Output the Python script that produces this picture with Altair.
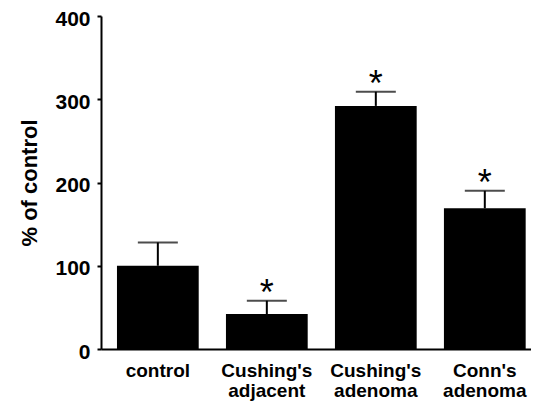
import altair as alt
import pandas as pd

categories = ["control", "Cushing's adjacent", "Cushing's adenoma", "Conn's adenoma"]
means = [100, 42, 292, 169]
upper = [128, 58, 309, 190]
marks = ["", "*", "*", "*"]

df = pd.DataFrame({"group": categories, "mean": means, "upper": upper, "sig": marks})

FONT = "Liberation Sans"

x = alt.X("group:N", sort=categories, title=None,
          scale=alt.Scale(paddingInner=0.25, paddingOuter=0.0977, align=0.75),
          axis=alt.Axis(labelAngle=0, labelExpr="split(datum.label, ' ')",
                        labelFont=FONT, labelFontWeight="bold", labelFontSize=19,
                        labelColor="black", labelLineHeight=20, labelPadding=12,
                        ticks=False, tickSize=0, domainColor="black", domainWidth=2))

y_axis = alt.Axis(values=[0, 100, 200, 300, 400], grid=False, labelFont=FONT,
                  labelFontWeight="bold", labelFontSize=21, labelColor="black",
                  labelPadding=7, labelOffset=3, tickSize=4, tickWidth=2, tickColor="black",
                  domainColor="black", domainWidth=2, title="% of control",
                  titleFont=FONT, titleFontWeight="bold", titleFontSize=22,
                  titleColor="black", titlePadding=13)

base = alt.Chart(df)

bars = base.mark_bar(color="black").encode(
    x=x,
    y=alt.Y("mean:Q", scale=alt.Scale(domain=[0, 400], nice=False), axis=y_axis),
)

err = base.mark_rule(color="black", strokeWidth=2).encode(
    x=alt.X("group:N", sort=categories), y="mean:Q", y2="upper:Q")

cap = base.mark_tick(color="black", size=40, thickness=2, orient="horizontal").encode(
    x=alt.X("group:N", sort=categories), y="upper:Q")

star = base.mark_text(font=FONT, fontSize=36, baseline="alphabetic", dy=4, color="black").encode(
    x=alt.X("group:N", sort=categories), y="upper:Q", text="sig:N")

chart = alt.layer(bars, err, cap, star).properties(
    width=430, height=333,
    autosize=alt.AutoSizeParams(type="none"),
    padding={"left": 93, "top": 8, "right": 0, "bottom": 56},
).configure_view(stroke=None)

chart.save("out.html", embed_options={"renderer": "svg", "actions": False})
